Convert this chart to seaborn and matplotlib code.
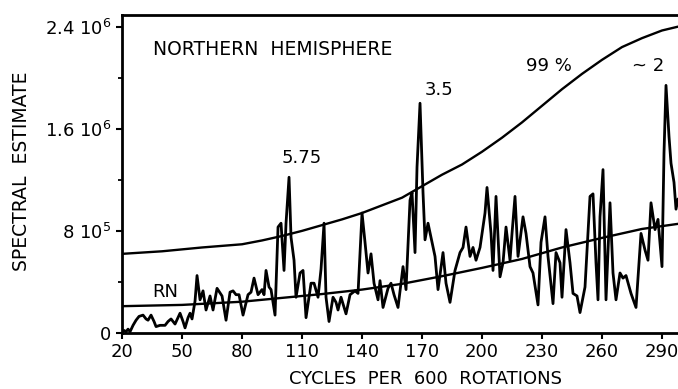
import numpy as np
import pandas as pd
import seaborn as sns
import matplotlib
matplotlib.use("Agg")
import matplotlib.pyplot as plt

# spectrum (x: cycles per 600 rotations, y: units of 1e5)
spec_x = [20, 21, 22, 23, 24, 25.5, 27, 28.5, 30.5, 32, 33, 34.5, 36, 37, 39, 41.5, 43, 44.5,
          46.5, 48, 49, 50.5, 51.5, 53, 54, 55, 56.5, 57.5, 59, 60.5, 62, 64, 65.5, 67.5, 70,
          72, 74, 75.5, 77, 78.5, 80.5, 83, 84.5, 86, 88, 90, 91, 92, 93.5, 94.5, 96.5, 98,
          99.5, 101, 102, 103.5, 104.5, 106, 107, 109, 110.5, 112, 114.5, 116, 118, 119.5,
          121, 122, 123.5, 125.5, 127, 128, 129.5, 132, 134, 136.5, 138, 140, 141.5, 143,
          144.5, 146, 148, 149, 150.5, 153, 154.5, 156, 158, 160.5, 162, 164, 165, 166.5,
          167.5, 169, 170.5, 171.5, 173, 174.5, 176.5, 178, 180.5, 182, 184, 186.5, 189,
          190.5, 192, 194, 195.5, 197, 199, 201.5, 202.5, 204.5, 205.5, 207, 209, 210.5,
          212, 214, 215, 216.5, 218, 220.5, 222, 224, 225.5, 228, 229.5, 231.5, 233, 235.5,
          237, 239, 240, 242, 244, 245.5, 247.5, 249, 251.5, 254, 255.5, 257, 258, 259,
          260.5, 262, 264, 265.5, 267, 269, 270.5, 272, 274.5, 277, 279.5, 281.5, 283,
          284.5, 286.5, 288, 290, 291, 292, 293.5, 294.5, 296, 297, 298]
spec_y = [0.0, 0.2, 0.1, 0.3, 0.1, 0.6, 1.0, 1.3, 1.4, 1.1, 1.0, 1.4, 0.9, 0.5, 0.6, 0.6, 0.9, 1.1,
          0.7, 1.2, 1.55, 0.9, 0.4, 1.2, 1.55, 1.1, 2.5, 4.5, 2.6, 3.3, 1.8, 2.9, 1.8, 3.5, 2.9,
          1.0, 3.2, 3.3, 3.0, 3.0, 1.4, 3.0, 3.2, 4.3, 3.0, 3.4, 3.0, 4.9, 3.6, 3.4, 1.4, 8.3,
          8.6, 4.9, 8.6, 12.2, 7.5, 5.7, 2.8, 4.7, 4.9, 1.2, 3.9, 3.9, 2.8, 5.0,
          8.6, 2.8, 0.9, 2.8, 2.4, 1.8, 2.8, 1.5, 3.0, 3.3, 3.1, 9.4, 7.1, 4.7,
          6.2, 3.9, 2.6, 4.1, 2.0, 3.5, 3.9, 3.0, 2.0, 5.2, 3.4, 10.4, 11.0, 6.3,
          13.0, 18.0, 11.0, 7.3, 8.6, 7.5, 6.0, 3.4, 6.3, 3.9, 2.4, 4.9, 6.3,
          6.7, 8.3, 6.0, 6.7, 5.7, 6.7, 9.4, 11.4, 7.8, 4.9, 10.7, 4.4, 5.5,
          8.3, 5.7, 7.8, 10.7, 6.0, 9.1, 7.8, 5.2, 4.7, 2.2, 7.1, 9.1, 6.0, 2.3,
          6.3, 5.5, 2.8, 8.1, 5.5, 3.1, 2.9, 1.6, 3.6, 10.7, 10.9, 5.5, 2.6, 9.1,
          12.8, 2.6, 10.2, 4.7, 2.6, 4.7, 4.3, 4.5, 3.1, 2.0, 7.8, 6.5, 5.7,
          10.2, 8.1, 8.9, 5.2, 14.1, 19.4, 15.4, 13.3, 11.8, 9.7, 10.5]

# 99 % significance level
sig_x = [20, 40, 60, 80, 90, 100, 110, 120, 130, 140, 150, 160, 170, 180, 190, 200, 210,
         220, 230, 240, 250, 260, 270, 280, 290, 298]
sig_y = [6.2, 6.4, 6.7, 6.95, 7.25, 7.6, 8.0, 8.45, 8.9, 9.4, 10.0, 10.6, 11.5, 12.4, 13.2,
         14.2, 15.3, 16.5, 17.8, 19.1, 20.3, 21.4, 22.4, 23.1, 23.7, 24.0]

# red noise
rn_x = [20, 50, 80, 90, 100, 120, 140, 160, 180, 200, 220, 230, 240, 260, 280, 298]
rn_y = [2.1, 2.2, 2.45, 2.6, 2.75, 3.05, 3.4, 3.85, 4.45, 5.1, 5.8, 6.25, 6.7, 7.45, 8.15, 8.55]

xticks = [20, 50, 80, 110, 140, 170, 200, 230, 260, 290]
yticks = [0, 8e5, 1.6e6, 2.4e6]
ytick_labels = ["0", r"8 $\mathregular{10^5}$", r"1.6 $\mathregular{10^6}$", r"2.4 $\mathregular{10^6}$"]

sns.set_style("ticks")
plt.rcParams["font.family"] = ["DejaVu Sans"]
plt.rcParams["text.color"] = "black"
plt.rcParams["axes.labelcolor"] = "black"
plt.rcParams["xtick.color"] = "black"
plt.rcParams["ytick.color"] = "black"

spec = pd.DataFrame({"x": spec_x, "y": np.array(spec_y) * 1e5})
sig = pd.DataFrame({"x": sig_x, "y": np.array(sig_y) * 1e5})
rn = pd.DataFrame({"x": rn_x, "y": np.array(rn_y) * 1e5})

fig = plt.figure(figsize=(6.78, 3.89), dpi=100)
ax = fig.add_axes([0.18, 0.144, 0.82, 0.817])

sns.lineplot(data=sig, x="x", y="y", ax=ax, color="black", lw=1.7)
sns.lineplot(data=rn, x="x", y="y", ax=ax, color="black", lw=1.7)
sns.lineplot(data=spec, x="x", y="y", ax=ax, color="black", lw=2.0)

ax.set_xlim(20, 298)
ax.set_ylim(0, 2.49e6)
ax.set_xticks(xticks)
ax.set_xticklabels([str(t) for t in xticks], fontsize=13)
ax.set_yticks(yticks)
ax.set_yticklabels(ytick_labels, fontsize=13)
ax.set_yticks([4e5, 1.2e6, 2.0e6], minor=True)
ax.tick_params(axis="both", direction="out", length=4, width=1.5, color="black")
ax.tick_params(axis="y", which="minor", direction="out", length=3, width=1.3)

for s in ["left", "top", "bottom"]:
    ax.spines[s].set_linewidth(2)
    ax.spines[s].set_color("black")
ax.spines["right"].set_visible(False)

ax.set_xlabel("CYCLES  PER  600  ROTATIONS", fontsize=13, va="baseline")
ax.xaxis.set_label_coords(0.546, -0.16)
ax.set_ylabel("SPECTRAL  ESTIMATE", fontsize=13.5, va="center")
ax.yaxis.set_label_coords(-0.18, 0.51)

ax.text(35.5, 2.22e6, "NORTHERN  HEMISPHERE", fontsize=13.5, va="center", ha="left")
ax.text(110, 1.37e6, "5.75", fontsize=13, ha="center", va="center")
ax.text(178.5, 1.9e6, "3.5", fontsize=13, ha="center", va="center")
ax.text(233.5, 2.09e6, "99 %", fontsize=13, ha="center", va="center")
ax.text(283, 2.09e6, "~ 2", fontsize=13, ha="center", va="center")
ax.text(41.5, 3.2e5, "RN", fontsize=13, ha="center", va="center")

fig.savefig("out.png", dpi=100)
